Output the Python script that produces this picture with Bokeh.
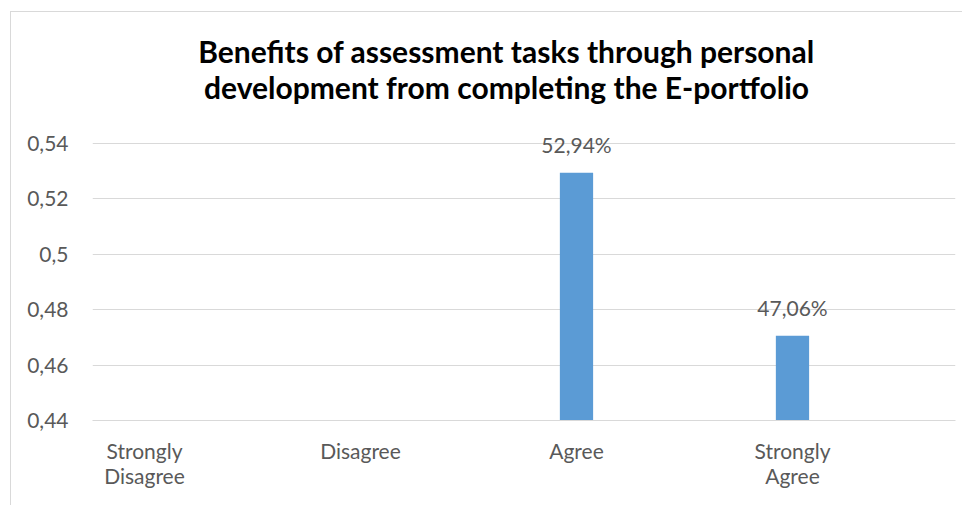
from bokeh.plotting import figure
from bokeh.models import Range1d, FixedTicker, ColumnDataSource, Label
from bokeh.embed import file_html
from bokeh.resources import INLINE

# ---- data ----
categories = ["Strongly\nDisagree", "Disagree", "Agree", "Strongly\nAgree"]
shares = [0.0, 0.0, 0.5294, 0.4706]
y_ticks = [0.44, 0.46, 0.48, 0.5, 0.52, 0.54]
y_tick_labels = ["0,44", "0,46", "0,48", "0,5", "0,52", "0,54"]
title_text = "Benefits of assessment tasks through personal\ndevelopment from completing the E-portfolio"

FONT = "Lato"
GREY = "#595959"
GRID = "#D9D9D9"
BAR = "#5B9BD5"

PX_PER_UNIT = 2770.0          # 0.02 of value = 55.4 px
FRAME_BOTTOM = 408
FRAME_TOP = 5
y_end = y_ticks[0] + (FRAME_BOTTOM - FRAME_TOP) / PX_PER_UNIT

xs = list(range(len(categories)))
labels = [("%.2f%%" % (v * 100)).replace(".", ",") if v > 0 else "" for v in shares]
src = ColumnDataSource(dict(x=xs, top=shares, label=labels))

p = figure(width=952, height=494, output_backend="svg", toolbar_location=None,
           x_range=Range1d(-0.2407, 3.7547), y_range=Range1d(y_ticks[0], y_end),
           min_border_left=81, min_border_right=8, min_border_top=FRAME_TOP,
           min_border_bottom=494 - FRAME_BOTTOM)
p.styles = {"margin-left": "10px", "margin-top": "11px",
            "border-left": "1px solid #D9D9D9", "border-top": "1px solid #D9D9D9"}
p.outline_line_color = None
p.background_fill_color = "white"
p.border_fill_color = "white"

p.vbar(x="x", top="top", bottom=0, width=0.154, source=src, fill_color=BAR, line_color=None)
p.text(x="x", y="top", text="label", source=src, text_align="center", text_baseline="middle",
       y_offset=-28, text_font_size="21px", text_color=GREY, text_font={"value": FONT})

# axes
p.yaxis.ticker = FixedTicker(ticks=y_ticks)
p.yaxis.major_label_overrides = dict(zip(y_ticks, y_tick_labels))
p.yaxis.axis_line_color = None
p.yaxis.major_tick_line_color = None
p.yaxis.minor_tick_line_color = None
p.yaxis.major_label_standoff = 18
p.yaxis.major_label_text_font = FONT
p.yaxis.major_label_text_font_size = "21px"
p.yaxis.major_label_text_color = GREY

p.xaxis.ticker = FixedTicker(ticks=xs)
p.xaxis.major_label_overrides = dict(zip(xs, categories))
p.xaxis.axis_line_color = GRID
p.xaxis.major_tick_line_color = None
p.xaxis.minor_tick_line_color = None
p.xaxis.major_label_standoff = 11
p.xaxis.major_label_text_font = FONT
p.xaxis.major_label_text_font_size = "21px"
p.xaxis.major_label_text_color = GREY
p.xaxis.major_label_text_line_height = 1.02

p.xgrid.grid_line_color = None
p.ygrid.ticker = FixedTicker(ticks=y_ticks)
p.ygrid.grid_line_color = GRID
p.ygrid.grid_line_width = 1

title = Label(x=494, y=55, x_units="canvas", y_units="canvas", text=title_text,
              text_align="center", text_baseline="middle", text_font=FONT,
              text_font_style="bold", text_font_size="30px", text_color="black",
              text_line_height=1.0)
p.add_layout(title)

open("out.html", "w").write(file_html(p, INLINE))
